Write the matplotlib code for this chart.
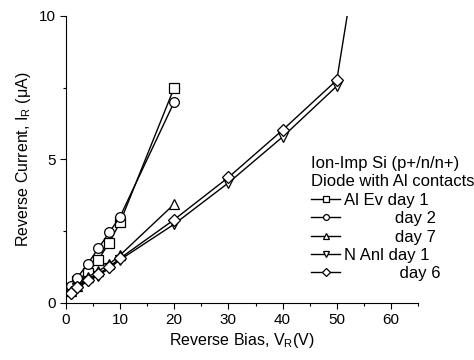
import matplotlib
matplotlib.use("Agg")
import matplotlib.pyplot as plt
from matplotlib.ticker import MultipleLocator

plt.rcParams['font.family'] = ['Liberation Sans', 'DejaVu Sans']
plt.rcParams['mathtext.fontset'] = 'custom'
plt.rcParams['mathtext.rm'] = 'Liberation Sans'
plt.rcParams['mathtext.it'] = 'Liberation Sans'
plt.rcParams['mathtext.default'] = 'regular'

# data
v_al = [1, 2, 4, 6, 8, 10, 20]
al_day1 = [0.5, 0.75, 1.05, 1.5, 2.1, 2.8, 7.5]
al_day2 = [0.6, 0.85, 1.35, 1.9, 2.45, 3.0, 7.0]
al_day7 = [0.4, 0.6, 0.9, 1.1, 1.35, 1.66, 3.44]

v_n = [1, 2, 4, 6, 8, 10, 20, 30, 40, 50]
n_day1 = [0.3, 0.5, 0.75, 0.95, 1.2, 1.5, 2.74, 4.18, 5.78, 7.55]
v_n6 = [1, 2, 4, 6, 8, 10, 20, 30, 40, 50, 52]
n_day6 = [0.35, 0.55, 0.8, 1.0, 1.25, 1.55, 2.9, 4.37, 6.02, 7.76, 10.1]

labels = ["Al Ev day 1", "           day 2", "           day 7",
          "N Anl day 1", "            day 6"]

fig = plt.figure(figsize=(4.74, 3.6), dpi=100)
ax = fig.add_axes([0.139, 0.159, 0.743, 0.797])

kw = dict(color="black", lw=1.0, mfc="white", mec="black", mew=0.9, ms=7)
ax.plot(v_al, al_day1, marker="s", label=labels[0], **kw)
ax.plot(v_al, al_day2, marker="o", label=labels[1], **kw)
ax.plot(v_al, al_day7, marker="^", label=labels[2], **kw)
ax.plot(v_n, n_day1, marker="v", label=labels[3], **kw)
ax.plot(v_n6, n_day6, marker="D", markevery=list(range(len(v_n6) - 1)),
        label=labels[4], **dict(kw, ms=6.5))

ax.set_xlim(0, 65)
ax.set_ylim(0, 10)
ax.xaxis.set_major_locator(MultipleLocator(10))
ax.xaxis.set_minor_locator(MultipleLocator(5))
ax.yaxis.set_major_locator(MultipleLocator(5))
ax.yaxis.set_minor_locator(MultipleLocator(2.5))
ax.tick_params(which="major", direction="out", length=4, width=0.8, labelsize=11)
ax.tick_params(which="minor", direction="out", length=2.5, width=0.8)
for s in ["top", "right"]:
    ax.spines[s].set_visible(False)

ax.set_xlabel("Reverse Bias, V$_R$(V)", fontsize=11.5, labelpad=3)
ax.set_ylabel("Reverse Current, I$_R$ ($\\mu$A)", fontsize=11.5, labelpad=4)

leg = ax.legend(title="Ion-Imp Si (p+/n/n+)\nDiode with Al contacts",
                loc="upper left", bbox_to_anchor=(0.696, 0.51), frameon=False,
                fontsize=12, title_fontsize=12, markerscale=0.6,
                handlelength=1.75, handletextpad=0.2, labelspacing=0.2,
                borderpad=0, borderaxespad=0, alignment="left")
leg.get_title().set_linespacing(1.2)
leg._legend_box.sep = 3

fig.savefig("out.png", dpi=100)
